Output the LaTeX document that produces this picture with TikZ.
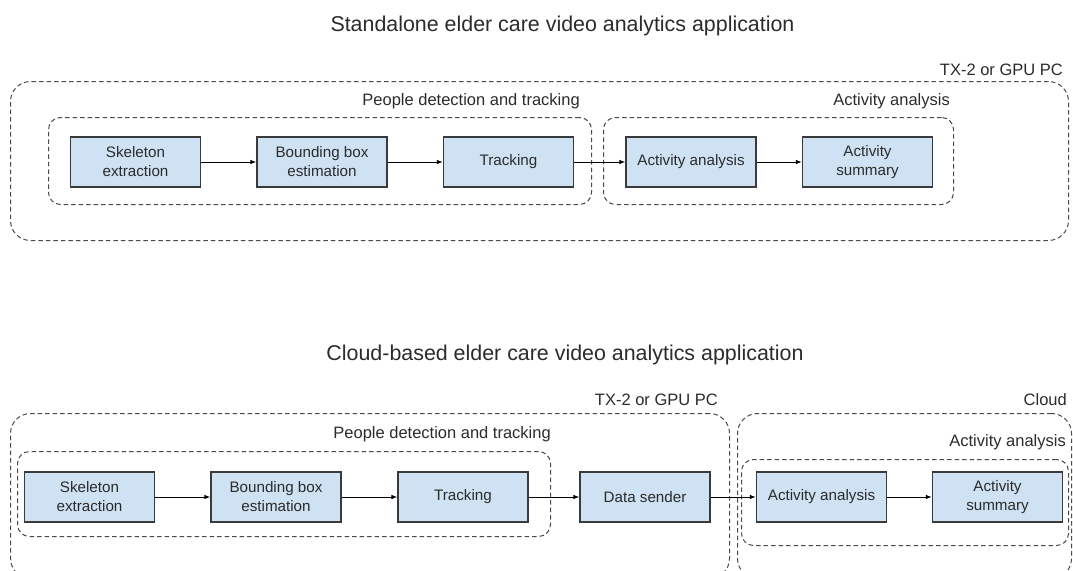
\documentclass[tikz,border=0pt]{standalone}
\usepackage{fontspec}
\setmainfont{Liberation Sans}
\usetikzlibrary{arrows.meta}

\definecolor{boxfill}{HTML}{CFE2F3}
\definecolor{boxline}{HTML}{3A3A3A}
\definecolor{txt}{HTML}{2B2B2B}
\definecolor{frameline}{HTML}{4A4A4A}

\tikzset{
  blk/.style={draw=boxline, line width=1.2pt, fill=boxfill, text=txt,
    minimum width=130, minimum height=50, inner sep=0pt, align=center,
    font=\fontsize{15.2}{19}\selectfont},
  frame/.style={draw=frameline, line width=1pt, dash pattern=on 4.5pt off 3pt,
    rounded corners=#1, anchor=north west, inner sep=0pt},
  frame/.default=12pt,
  framelabel/.style={anchor=base east, inner sep=0pt, text=txt,
    font=\fontsize{16.5}{20}\selectfont},
  title/.style={anchor=base, inner sep=0pt, text=txt,
    font=\fontsize{21.4}{26}\selectfont},
  flow/.style={draw=black, line width=1pt, -{Latex[length=6pt,width=4.5pt]}}
}

\begin{document}
\begin{tikzpicture}[x=1pt, y=-1pt]
\useasboundingbox (0,0) rectangle (1073,570);
\clip (0,0) rectangle (1073,570);

% ---------- Standalone application ----------
\node[title] (t1) at (562.5,31.5) {Standalone elder care video analytics application};

\node[frame=20pt, minimum width=1058, minimum height=159] (hostA) at (10,81) {};
\node[framelabel] (hostAl) at (1063,75) {TX-2 or GPU PC};

\node[frame, minimum width=543, minimum height=87] (pdtA) at (48,117) {};
\node[framelabel] (pdtAl) at (580,105) {People detection and tracking};

\node[frame, minimum width=350, minimum height=87] (actA) at (603,117) {};
\node[framelabel] (actAl) at (950,105) {Activity analysis};

\node[blk] (sk1) at (135.5,162) {Skeleton\\extraction};
\node[blk] (bb1) at (322,162) {Bounding box\\estimation};
\node[blk] (tr1) at (508.5,162) {Tracking};
\node[blk] (aa1) at (691,162) {Activity analysis};
\node[blk] (as1) at (867.5,162) {Activity\\summary};

\draw[flow] (sk1) -- (bb1);
\draw[flow] (bb1) -- (tr1);
\draw[flow] (tr1) -- (aa1);
\draw[flow] (aa1) -- (as1);

% ---------- Cloud-based application ----------
\node[title] (t2) at (565,360) {Cloud-based elder care video analytics application};

\node[frame=20pt, minimum width=719, minimum height=165] (hostB) at (10,413) {};
\node[framelabel] (hostBl) at (718,405) {TX-2 or GPU PC};

\node[frame=20pt, minimum width=334, minimum height=165] (cloud) at (737,413) {};
\node[framelabel] (cloudl) at (1067,405) {Cloud};

\node[frame, minimum width=533, minimum height=85] (pdtB) at (17,451) {};
\node[framelabel] (pdtBl) at (551,438) {People detection and tracking};

\node[frame, minimum width=327, minimum height=86] (actB) at (741,459) {};
\node[framelabel] (actBl) at (1066,446) {Activity analysis};

\node[blk] (sk2) at (89.5,497) {Skeleton\\extraction};
\node[blk] (bb2) at (276,497) {Bounding box\\estimation};
\node[blk] (tr2) at (463,497) {Tracking};
\node[blk] (ds2) at (645,497) {Data sender};
\node[blk] (aa2) at (821.5,497) {Activity analysis};
\node[blk] (as2) at (997.5,497) {Activity\\summary};

\draw[flow] (sk2) -- (bb2);
\draw[flow] (bb2) -- (tr2);
\draw[flow] (tr2) -- (ds2);
\draw[flow] (ds2) -- (aa2);
\draw[flow] (aa2) -- (as2);
\end{tikzpicture}
\end{document}
